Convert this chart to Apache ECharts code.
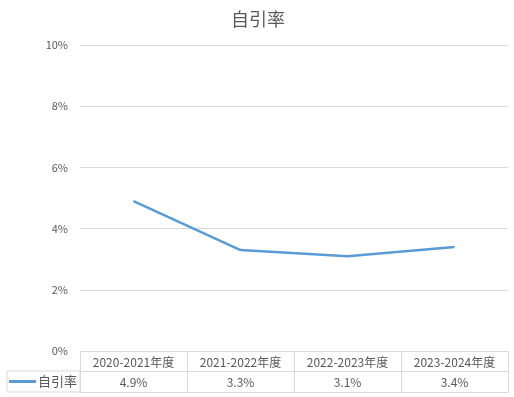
<!DOCTYPE html>
<html>
<head>
<meta charset="utf-8">
<script src="https://cdn.jsdelivr.net/npm/echarts@6/dist/echarts.min.js"></script>
<style>
  html, body { margin: 0; padding: 0; background: #fff; }
  #main { width: 514px; height: 397px; }
</style>
</head>
<body>
<div id="main"></div>
<script>
// данные графика
const years = ['2020-2021年度', '2021-2022年度', '2022-2023年度', '2023-2024年度'];
const selfCiteRate = [0.049, 0.033, 0.031, 0.034];
const seriesName = '自引率';

const txt = '#595959';
const border = '#d9d9d9';
const font = '"Noto Sans CJK SC", "DejaVu Sans", sans-serif';

let chart = echarts.init(document.getElementById('main'));

const option = {
    backgroundColor: '#fff',
    animation: false,
    textStyle: { fontFamily: font },
    title: {
        text: seriesName,
        left: 253,
        textAlign: 'center',
        top: 5,
        textStyle: { color: txt, fontSize: 18, fontWeight: 'normal', fontFamily: font }
    },
    // ячейка легенды в таблице данных
    legend: {
        left: 7,
        top: 371,
        padding: [4, 3, 4, 2],
        backgroundColor: '#fff',
        borderColor: border,
        borderWidth: 1,
        icon: 'rect',
        itemWidth: 27,
        itemHeight: 3,
        itemGap: 0,
        textStyle: { color: txt, fontSize: 13, padding: [0, 0, 0, -3], fontFamily: font },
        data: [seriesName]
    },
    grid: {
        left: 80,
        right: 6,
        top: 45,
        bottom: 46
    },
    xAxis: [
        {
            type: 'category',
            data: years,
            axisLine: { show: true, lineStyle: { color: border } },
            axisTick: { show: true, length: 41, interval: 0, lineStyle: { color: border } },
            axisLabel: { color: txt, fontSize: 12, margin: 5, interval: 0 }
        },
        {
            type: 'category',
            position: 'bottom',
            offset: 20,
            data: selfCiteRate.map(v => (v * 100).toFixed(1) + '%'),
            axisLine: { show: true, lineStyle: { color: border } },
            axisTick: { show: false },
            axisLabel: { color: txt, fontSize: 12, margin: 5, interval: 0 }
        },
        {
            type: 'category',
            position: 'bottom',
            offset: 41,
            data: years,
            axisLine: { show: true, lineStyle: { color: border } },
            axisTick: { show: false },
            axisLabel: { show: false }
        }
    ],
    yAxis: {
        type: 'value',
        min: 0,
        max: 0.1,
        interval: 0.02,
        axisLine: { show: false },
        axisTick: { show: false },
        axisLabel: {
            color: txt,
            fontSize: 11,
            margin: 12,
            formatter: v => Math.round(v * 100) + '%'
        },
        splitLine: { lineStyle: { color: border } }
    },
    series: [
        {
            name: seriesName,
            type: 'line',
            data: selfCiteRate,
            symbol: 'none',
            itemStyle: { color: '#5B9BD5' },
            lineStyle: { color: '#5B9BD5', width: 2.5 }
        }
    ]
};
chart.setOption(option);
</script>
</body>
</html>
